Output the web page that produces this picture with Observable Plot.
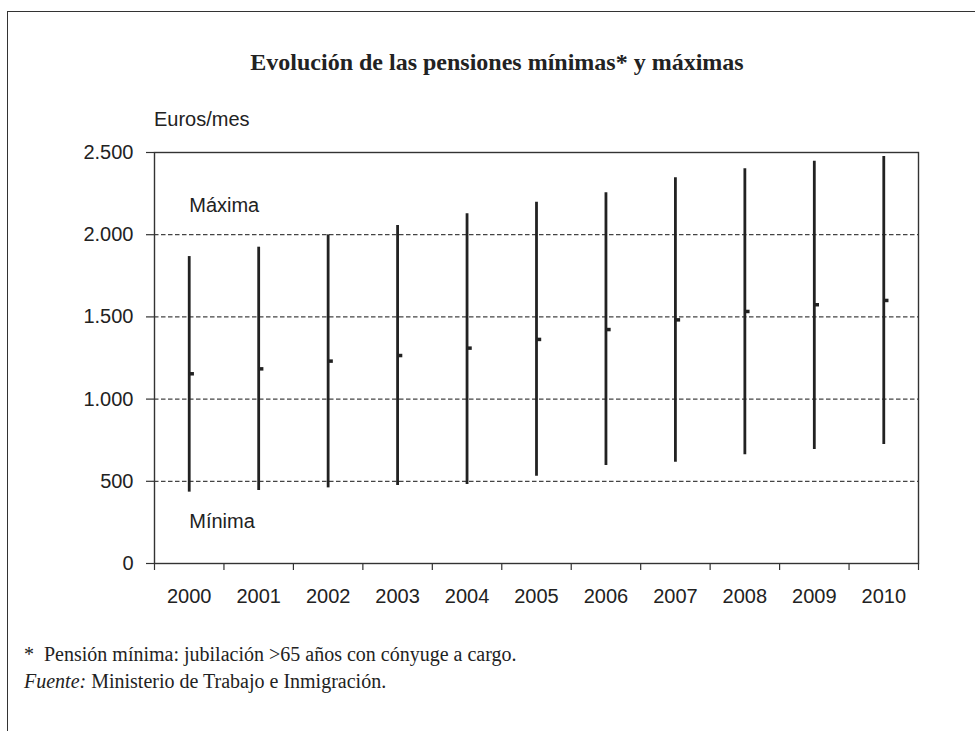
<!DOCTYPE html>
<html>
<head>
<meta charset="utf-8">
<script src="https://cdn.jsdelivr.net/npm/d3@7"></script>
<script src="https://cdn.jsdelivr.net/npm/@observablehq/plot@0.6"></script>
<style>
  html, body { margin: 0; padding: 0; background: #fff; }
  #wrap { position: relative; width: 975px; height: 731px; overflow: hidden; background: #fff; }
  #border { position: absolute; left: 7px; top: 11px; width: 1000px; height: 800px;
            border-left: 1.5px solid #333; border-top: 1.5px solid #333; }
  #chart { position: absolute; left: 0; top: 0; }
  .title { position: absolute; left: 497px; top: 50px; transform: translateX(-50%); white-space: nowrap;
           font-family: "Liberation Serif", "Times New Roman", serif; font-weight: bold; font-size: 24px;
           line-height: 24px; color: #222; }
  .unit { position: absolute; left: 154px; top: 109px; font-family: "Liberation Sans", Arial, sans-serif;
          font-size: 20px; line-height: 20px; color: #222; }
  .notes { position: absolute; left: 24px; top: 641px; font-family: "Liberation Serif", "Times New Roman", serif;
           font-size: 20px; line-height: 27px; color: #222; white-space: nowrap; }
</style>
</head>
<body>
<div id="wrap">
  <div id="border"></div>
  <div id="chart"></div>
  <div class="title">Evolución de las pensiones mínimas* y máximas</div>
  <div class="unit">Euros/mes</div>
  <div class="notes">*&nbsp; Pensión mínima: jubilación &gt;65 años con cónyuge a cargo.<br><i>Fuente:</i> Ministerio de Trabajo e Inmigración.</div>
</div>
<script>
// Data (euros/month)
const years   = [2000, 2001, 2002, 2003, 2004, 2005, 2006, 2007, 2008, 2009, 2010];
const maxima  = [1867, 1924, 1999, 2056, 2127, 2198, 2255, 2346, 2401, 2447, 2476];
const minima  = [434, 444, 460, 474, 480, 531, 596, 616, 661, 693, 724];
const media   = [1154, 1184, 1231, 1265, 1310, 1363, 1423, 1482, 1533, 1574, 1600];
const yTicks  = [0, 500, 1000, 1500, 2000, 2500];
const gridLines = [500, 1000, 1500, 2000];

const data = years.map((year, i) => ({year, max: maxima[i], min: minima[i], mid: media[i]}));
const boundaries = [...years.map(y => y - 0.5), years[years.length - 1] + 0.5];

const esLocale = d3.formatLocale({decimal: ",", thousands: ".", grouping: [3], currency: ["", " €"]});
const fmt = esLocale.format(",");

const chart = Plot.plot({
  width: 975,
  height: 620,
  marginTop: 152,
  marginLeft: 154,
  marginRight: 57,
  marginBottom: 57,
  style: {fontFamily: '"Liberation Sans", Arial, sans-serif', fontSize: "20px", color: "#222", background: "transparent"},
  x: {domain: [boundaries[0], boundaries[boundaries.length - 1]]},
  y: {domain: [0, 2500]},
  marks: [
    Plot.ruleY(gridLines, {stroke: "#444", strokeWidth: 1.2, strokeDasharray: "4.5,2.5"}),
    Plot.frame({stroke: "#333", strokeWidth: 1.4}),
    Plot.axisY({ticks: yTicks, tickSize: 8, tickPadding: 13, tickFormat: fmt, label: null, stroke: "#333", strokeWidth: 1.2, fill: "#222"}),
    Plot.axisX({ticks: boundaries, tickSize: 7, tickFormat: () => "", label: null, stroke: "#333", strokeWidth: 1.2}),
    Plot.axisX({ticks: years, tickSize: 0, tickPadding: 25, tickFormat: d => String(d), label: null, fill: "#222"}),
    Plot.ruleX(data, {x: "year", y1: "min", y2: "max", stroke: "#222", strokeWidth: 2.8}),
    Plot.ruleY(data, {y: "mid", x1: "year", x2: d => d.year + 0.075, stroke: "#222", strokeWidth: 3.5}),
    Plot.text(["Máxima"], {x: years[0], y: 2180, text: d => d, textAnchor: "start", fill: "#222"}),
    Plot.text(["Mínima"], {x: years[0], y: 257, text: d => d, textAnchor: "start", fill: "#222"})
  ]
});
document.getElementById("chart").appendChild(chart);
</script>
</body>
</html>
